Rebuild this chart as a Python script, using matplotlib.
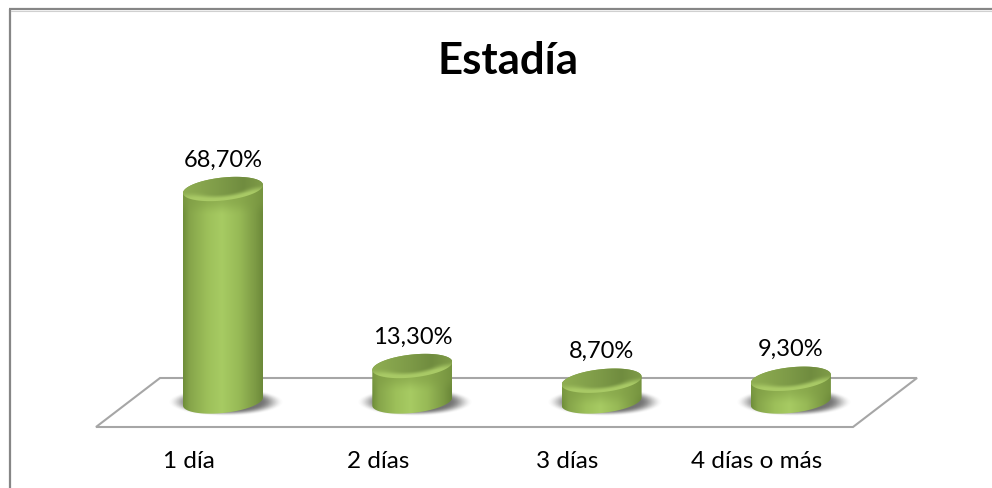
import numpy as np
import matplotlib
matplotlib.use("Agg")
import matplotlib.pyplot as plt
from matplotlib.path import Path
from matplotlib.patches import PathPatch, Polygon
from matplotlib.colors import LinearSegmentedColormap, to_rgb

categories = ["1 día", "2 días", "3 días", "4 días o más"]
values = [68.7, 13.3, 8.7, 9.3]
labels = ["68,70%", "13,30%", "8,70%", "9,30%"]
title = "Estadía"

W, H = 992, 489
X0, XS = 223.0, 189.3      # px of category 0, px per category
Y0, YS = 409.5, 3.195      # px of value 0, px per unit
FONT = "Lato"

fig = plt.figure(figsize=(W / 100, H / 100), dpi=100, facecolor="white")
ax = fig.add_axes([0, 0, 1, 1])
ax.set_xlim(-X0 / XS, (W - X0) / XS)
ax.set_ylim((Y0 - H) / YS, Y0 / YS)
ax.axis("off")

dx = lambda p: p / XS      # pixel length -> x data
dy = lambda p: p / YS      # pixel length -> y data
xv = lambda p: (p - X0) / XS
yv = lambda p: (Y0 - p) / YS

# outer frame (cut by the image on the right and bottom)
ax.plot([xv(10), xv(10)], [yv(489), yv(10)], color="#868686", lw=1.6, solid_capstyle="butt", zorder=1)
ax.plot([xv(9), xv(992)], [yv(10), yv(10)], color="#868686", lw=1.6, solid_capstyle="butt", zorder=1)
ax.plot([xv(11), xv(992)], [yv(11.5), yv(11.5)], color="#d0d0d0", lw=0.8, zorder=1)

# floor
floor_px = [(160, 379), (917, 379), (853, 428), (96, 428)]
ax.add_patch(Polygon([(xv(a), yv(b)) for a, b in floor_px], closed=True,
                     fc="white", ec="#a6a6a6", lw=1.5, zorder=2))

A, B, TILT = dx(40), dy(11.5), dy(4)
BASE = yv(402.5)

side_cmap = LinearSegmentedColormap.from_list("side", [
    (0.00, "#6f8e3a"), (0.08, "#86a54a"), (0.30, "#9dc05a"), (0.48, "#a7cb63"),
    (0.70, "#97b956"), (0.90, "#7c9a44"), (1.00, "#6a8738")])
top_cmap = LinearSegmentedColormap.from_list("top", [
    (0.00, "#8fae52"), (0.45, "#7e9b48"), (0.75, "#708c3f"), (1.00, "#7f9c48")])
RIM = np.array(to_rgb("#a9ca66"))
SHADE = np.array(to_rgb("#7f9d45"))


def smooth(a):
    a = np.clip(a, 0, 1)
    return a * a * (3 - 2 * a)


def ell(cx, cy, t):
    return cx + A * np.cos(t), cy + B * np.sin(t) + TILT * np.cos(t)


def closed_patch(verts):
    codes = [Path.MOVETO] + [Path.LINETO] * (len(verts) - 2) + [Path.CLOSEPOLY]
    p = PathPatch(Path(verts, codes), fc="none", ec="none", transform=ax.transData)
    ax.add_patch(p)
    return p


def cylinder(i, v):
    # soft shadow on the floor
    sx = np.linspace(-1.5, 1.5, 200)
    sy = np.linspace(-1.5, 1.5, 80)
    gx, gy = np.meshgrid(sx, sy)
    r = np.sqrt(gx ** 2 + gy ** 2)
    a = smooth((1.12 - r) / 0.45) * 0.85
    rgba = np.zeros(gx.shape + (4,))
    rgba[..., :3] = 0.36
    rgba[..., 3] = a
    sw, sh = dx(52), dy(12.5)
    cx, cy = i + dx(3), BASE - dy(0.5)
    ax.imshow(rgba, extent=[cx - 1.5 * sw, cx + 1.5 * sw, cy - 1.5 * sh, cy + 1.5 * sh],
              aspect="auto", origin="lower", zorder=3, interpolation="bilinear")

    # body: horizontal cylinder shading, darker just below the rim
    tb = np.linspace(np.pi, 2 * np.pi, 60)
    tt = np.linspace(0, np.pi, 60)
    xb, yb = ell(i, BASE, tb)
    xt, yt = ell(i, v, tt)
    clip = closed_patch(np.r_[np.c_[xb, yb], np.c_[xt, yt], [[xb[0], yb[0]]]])
    ylo, yhi = BASE - 2 * B, v + 2 * B
    ny = max(int((yhi - ylo) * YS), 8)
    u = np.linspace(0, 1, 160)
    yy = np.linspace(yhi, ylo, ny)
    U, Y = np.meshgrid(u, yy)
    body = side_cmap(U)[..., :3]
    mix = (1 - smooth(((v - B) - Y) / dy(16))) * 0.55
    body = body * (1 - mix[..., None]) + SHADE * mix[..., None]
    im = ax.imshow(body, extent=[i - A, i + A, ylo, yhi], aspect="auto",
                   zorder=4, interpolation="bilinear")
    im.set_clip_path(clip)

    # top cap with a soft bevel towards the front edge
    capt = np.linspace(0, 2 * np.pi, 120)
    xc, yc = ell(i, v, capt)
    cap = closed_patch(np.c_[xc, yc])
    cu = np.linspace(-1, 1, 120)
    cy_ = np.linspace(v + 1.6 * B, v - 1.6 * B, 60)
    CU, CY = np.meshgrid(cu, cy_)
    w = (CY - v - TILT * CU) / B
    capimg = top_cmap((CU + 1) / 2)[..., :3]
    edge = np.sqrt(np.clip(CU ** 2 + w ** 2, 0, 4))
    bev = smooth((-w + 0.05) / 0.7) * smooth((edge - 0.45) / 0.45)
    capimg = capimg * (1 - bev[..., None]) + RIM * bev[..., None]
    imc = ax.imshow(capimg, extent=[i - A, i + A, v - 1.6 * B, v + 1.6 * B], aspect="auto",
                    zorder=5, interpolation="bilinear")
    imc.set_clip_path(cap)


for i, (v, lab) in enumerate(zip(values, labels)):
    cylinder(i, v)
    ax.annotate(lab, (i, v), xytext=(0, 30 * 0.72), textcoords="offset points",
                ha="center", va="center", fontsize=17, family=FONT, color="black", zorder=7)

for i, c in enumerate(categories):
    ax.annotate(c, (i, yv(462)), xytext=(-34 * 0.72, 0), textcoords="offset points",
                ha="center", va="center", fontsize=17.5, family=FONT, color="black", zorder=7)

ax.text(xv(508), yv(61), title, ha="center", va="center", fontsize=31.5,
        fontweight="bold", family=FONT, color="black", zorder=7)

ax.set_xlim(-X0 / XS, (W - X0) / XS)
ax.set_ylim((Y0 - H) / YS, Y0 / YS)
fig.savefig("out.png", dpi=100, facecolor="white")
